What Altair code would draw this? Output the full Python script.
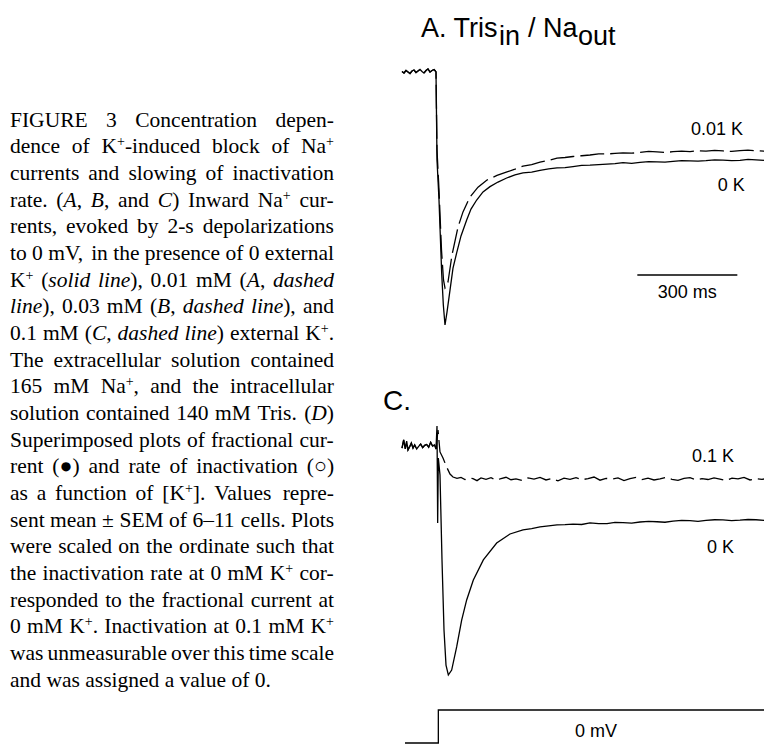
import altair as alt
import pandas as pd

# ---------------- caption text (*...* = italic, ^x = superscript) ----------------
CAPTION_LINES = [
    "FIGURE 3 Concentration depen-",
    "dence of K^+-induced block of Na^+",
    "currents and slowing of inactivation",
    "rate. (*A*, *B*, and *C*) Inward Na^+ cur-",
    "rents, evoked by 2-s depolarizations",
    "to 0 mV, in the presence of 0 external",
    "K^+ (*solid line*), 0.01 mM (*A*, *dashed*",
    "*line*), 0.03 mM (*B*, *dashed line*), and",
    "0.1 mM (*C*, *dashed line*) external K^+.",
    "The extracellular solution contained",
    "165 mM Na^+, and the intracellular",
    "solution contained 140 mM Tris. (*D*)",
    "Superimposed plots of fractional cur-",
    "rent (\u25cf) and rate of inactivation (\u25cb)",
    "as a function of [K^+]. Values repre-",
    "sent mean \u00b1 SEM of 6\u201311 cells. Plots",
    "were scaled on the ordinate such that",
    "the inactivation rate at 0 mM K^+ cor-",
    "responded to the fractional current at",
    "0 mM K^+. Inactivation at 0.1 mM K^+",
    "was unmeasurable over this time scale",
    "and was assigned a value of 0.",
]

# ---------------- traces: time (ms from step), current (fraction of 0 K peak) ----------------
A_PRE_T = [-102, -96, -90, -84, -78, -72, -66, -60, -54, -48, -42, -36, -30, -24, -18, -12, -6, -2]
A_PRE_I = [0.002, -0.004, 0.006, 0.000, -0.006, 0.004, 0.008, -0.002, 0.004, 0.010,
           0.002, -0.004, 0.006, 0.012, 0.000, 0.006, 0.010, 0.004]

A_0K_T = [0, 3, 9, 17, 22, 27, 33, 42, 51, 62,
          75, 92, 105, 122, 141, 162, 186, 212, 237, 261,
          287, 312, 338, 363, 387, 411, 437, 462, 488, 513,
          537, 561, 587, 612, 638, 663, 687, 711, 737, 762,
          786, 810, 836, 861, 887, 912, 936, 960, 984, 1008]
A_0K_I = [0, -0.348, -0.506, -0.794, -0.921, -1.0, -0.949, -0.862, -0.775, -0.715,
          -0.648, -0.585, -0.542, -0.506, -0.474, -0.453, -0.435, -0.419, -0.407, -0.399,
          -0.396, -0.389, -0.383, -0.379, -0.378, -0.374, -0.369, -0.368, -0.366, -0.364,
          -0.362, -0.358, -0.361, -0.357, -0.354, -0.355, -0.356, -0.353, -0.350, -0.351,
          -0.352, -0.350, -0.347, -0.348, -0.350, -0.349, -0.345, -0.347, -0.349, -0.348]

A_001K_T = [0, 3, 9, 16.5, 22.5, 27, 33, 36, 48, 66,
            81, 102, 126, 153, 183, 213, 237, 261, 287, 312,
            338, 363, 387, 411, 437, 462, 488, 513, 537, 561,
            587, 612, 638, 663, 687, 711, 737, 762, 786, 810,
            836, 861, 887, 912, 936, 960, 984, 1008]
A_001K_I = [0, -0.308, -0.466, -0.704, -0.822, -0.854, -0.845, -0.830, -0.723, -0.613,
            -0.553, -0.494, -0.455, -0.427, -0.409, -0.395, -0.384, -0.372, -0.366, -0.356,
            -0.350, -0.340, -0.338, -0.334, -0.331, -0.328, -0.324, -0.324, -0.322, -0.320,
            -0.321, -0.318, -0.314, -0.316, -0.318, -0.315, -0.313, -0.315, -0.311, -0.313,
            -0.310, -0.312, -0.314, -0.311, -0.309, -0.311, -0.313, -0.311]

C_PRE_T = [-102, -97, -92, -88, -84, -79, -74, -69, -64, -58, -52, -46, -40, -34, -28, -22, -16, -10, -5]
C_PRE_I = [0.004, 0.040, 0.000, 0.035, -0.004, 0.010, 0.026, 0.004, 0.018, 0.000,
           0.012, 0.022, 0.006, 0.016, 0.020, 0.008, 0.030, 0.012, 0.018]

C_0K_T = [0, 3, 5, 7, 12, 18, 24, 30, 37, 47,
          62, 77, 92, 112, 142, 182, 222, 261, 287, 312,
          338, 363, 387, 411, 437, 462, 488, 513, 537, 561,
          587, 612, 638, 663, 687, 711, 737, 762, 786, 810,
          836, 861, 887, 912, 936, 960, 984, 1008]
C_0K_I = [0, 0.102, -0.327, -0.040, -0.115, -0.491, -0.801, -0.956, -1.0, -0.978,
          -0.876, -0.757, -0.668, -0.580, -0.491, -0.416, -0.376, -0.358, -0.352, -0.345,
          -0.340, -0.336, -0.335, -0.332, -0.334, -0.327, -0.330, -0.330, -0.325, -0.326,
          -0.328, -0.323, -0.320, -0.322, -0.324, -0.319, -0.316, -0.317, -0.320, -0.316,
          -0.313, -0.314, -0.317, -0.315, -0.312, -0.313, -0.316, -0.314]

C_01K_T = [0, 6, 12, 21, 32, 42, 51, 63, 75, 87,
           99, 111, 123, 135, 150, 165, 180, 195, 210, 225,
           240, 258, 276, 294, 312, 330, 348, 366, 384, 402,
           420, 438, 456, 474, 492, 510, 528, 546, 564, 582,
           600, 618, 636, 654, 672, 690, 708, 726, 744, 762,
           780, 798, 816, 834, 852, 870, 888, 906, 924, 942,
           960, 978, 996, 1008]
C_01K_I = [0, 0.084, -0.013, -0.040, -0.080, -0.111, -0.124, -0.130, -0.126, -0.135,
           -0.129, -0.131, -0.140, -0.128, -0.134, -0.127, -0.138, -0.131, -0.125, -0.136,
           -0.132, -0.139, -0.128, -0.133, -0.126, -0.137, -0.130, -0.141, -0.129, -0.134,
           -0.127, -0.136, -0.131, -0.124, -0.138, -0.130, -0.133, -0.128, -0.140, -0.131,
           -0.126, -0.135, -0.129, -0.137, -0.132, -0.125, -0.134, -0.139, -0.130, -0.127,
           -0.136, -0.131, -0.135, -0.128, -0.133, -0.140, -0.129, -0.132, -0.126, -0.137,
           -0.131, -0.134, -0.130, -0.133]

STEP_T = [-93, 7, 7, 1008]
STEP_V = [-80, -80, 0, 0]

SCALEBAR_T = [604, 904]   # 300 ms
SCALEBAR_I = -0.802

A_LABEL_TEXT = ["0.01 K", "0 K"]
A_LABEL_T = [765, 845]
A_LABEL_I = [-0.229, -0.451]
C_LABEL_TEXT = ["0.1 K", "0 K"]
C_LABEL_T = [768, 813]
C_LABEL_I = [-0.035, -0.438]

# ---------------- layout (whole chart fits in 756 x 738) ----------------
CAP_W, RIGHT_W = 372, 384
A_H, C_H, V_H = 352, 340, 46
T_DOMAIN = [-168, 984]          # 3 ms per pixel
CAP_SIZE = 21.5
SUP_SIZE = 14
CAP_X0, CAP_LINE_W = 2, 324

SANS = "Liberation Sans"
SERIF = "Liberation Serif"

# Times/Liberation Serif advance widths (1/1000 em) for text justification
_REG = dict(zip(" !\"#$%&'()*+,-./0123456789:;<=>?@",
                [250, 333, 408, 500, 500, 833, 778, 180, 333, 333, 500, 564, 250, 333, 250, 278]
                + [500] * 10 + [278, 278, 564, 564, 564, 444, 921]))
_REG.update(dict(zip("ABCDEFGHIJKLMNOPQRSTUVWXYZ[\\]",
                     [722, 667, 667, 722, 611, 556, 722, 722, 333, 389, 722, 611, 889, 722, 722,
                      556, 722, 667, 556, 611, 722, 722, 944, 722, 722, 611, 333, 278, 333])))
_REG.update(dict(zip("abcdefghijklmnopqrstuvwxyz",
                     [444, 500, 444, 500, 444, 333, 500, 500, 278, 278, 500, 278, 778, 500, 500,
                      500, 500, 333, 389, 278, 500, 500, 722, 500, 500, 444])))
_REG.update({"\u00b1": 564, "\u2013": 500, "\u25cf": 600, "\u25cb": 600})
_ITA = dict(_REG)
_ITA.update(dict(zip("abcdefghijklmnopqrstuvwxyz",
                     [500, 500, 444, 500, 444, 278, 500, 500, 278, 278, 444, 278, 722, 500, 500,
                      500, 500, 389, 389, 278, 500, 444, 667, 444, 444, 389])))
_ITA.update({"A": 611, "B": 611, "C": 667, "D": 722})


def seg_width(text, style):
    if style == "sup":
        return sum(_REG.get(c, 500) for c in text) * SUP_SIZE / 1000
    table = _ITA if style == "italic" else _REG
    return sum(table.get(c, 500) for c in text) * CAP_SIZE / 1000


def parse_word(word, italic_state):
    segs, cur, style_it = [], "", italic_state
    i = 0
    while i < len(word):
        c = word[i]
        if c == "*":
            if cur:
                segs.append((cur, "italic" if style_it else "normal"))
                cur = ""
            style_it = not style_it
        elif c == "^":
            if cur:
                segs.append((cur, "italic" if style_it else "normal"))
                cur = ""
            segs.append((word[i + 1], "sup"))
            i += 1
        else:
            cur += c
        i += 1
    if cur:
        segs.append((cur, "italic" if style_it else "normal"))
    return segs, style_it


rows = []
for li, line_txt in enumerate(CAPTION_LINES):
    words, it = [], False
    for w in line_txt.split(" "):
        segs, it = parse_word(w, it)
        words.append(segs)
    widths = [sum(seg_width(t, s) for t, s in segs) for segs in words]
    last = li == len(CAPTION_LINES) - 1
    gap = CAP_SIZE * 0.25 if last or len(words) < 2 else \
        (CAP_LINE_W - sum(widths)) / (len(words) - 1)
    x = CAP_X0
    for segs, wd in zip(words, widths):
        sx = x
        for t, s in segs:
            rows.append({"i": li, "x": sx, "s": t, "style": s})
            sx += seg_width(t, s)
        x += wd + gap
cap_df = pd.DataFrame(rows)


def ydomain(zero_px, px_per_unit, height):
    return [-(height - zero_px) / px_per_unit, zero_px / px_per_unit]


xs = alt.Scale(domain=T_DOMAIN, nice=False, zero=False)
ysA = alt.Scale(domain=ydomain(64, 253, A_H), nice=False, zero=False)
ysC = alt.Scale(domain=ydomain(89, 226, C_H), nice=False, zero=False)
ysV = alt.Scale(domain=ydomain(10, 33 / 80, V_H), nice=False, zero=False)


def trace_df(t, i):
    df = pd.DataFrame({"t": t, "I": i})
    df["o"] = range(len(df))
    return df


def line(df, ys, dash=None, field="I"):
    kw = dict(color="black", strokeWidth=1.3, clip=True)
    if dash:
        kw["strokeDash"] = dash
    return alt.Chart(df).mark_line(**kw).encode(
        x=alt.X("t:Q", scale=xs, axis=None),
        y=alt.Y(f"{field}:Q", scale=ys, axis=None),
        order="o:Q",
    )


def labels(texts, ts, vals, ys, size=18, align="left"):
    df = pd.DataFrame({"t": ts, "I": vals, "s": texts})
    return alt.Chart(df).mark_text(font=SANS, fontSize=size, align=align,
                                   baseline="middle", color="black").encode(
        x=alt.X("t:Q", scale=xs, axis=None),
        y=alt.Y("I:Q", scale=ys, axis=None),
        text="s:N",
    )


def fixed_text(s, x, y, size):
    return alt.Chart(pd.DataFrame({"s": [s]})).mark_text(
        font=SANS, fontSize=size, align="left", baseline="alphabetic", color="black"
    ).encode(text="s:N", x=alt.value(x), y=alt.value(y))


# caption chart
cap_x = alt.Scale(domain=[0, CAP_W], nice=False, zero=False)
cap_y = alt.Scale(domain=[0, 21], range=[118.7, 678.7])
cap_base = alt.Chart(cap_df).encode(
    x=alt.X("x:Q", scale=cap_x, axis=None),
    y=alt.Y("i:Q", scale=cap_y, axis=None),
    text="s:N",
)
cap_norm = cap_base.transform_filter(alt.datum.style == "normal").mark_text(
    font=SERIF, fontSize=CAP_SIZE, align="left", baseline="alphabetic", color="black")
cap_ita = cap_base.transform_filter(alt.datum.style == "italic").mark_text(
    font=SERIF, fontSize=CAP_SIZE, fontStyle="italic", align="left",
    baseline="alphabetic", color="black")
cap_sup = cap_base.transform_filter(alt.datum.style == "sup").mark_text(
    font=SERIF, fontSize=SUP_SIZE, align="left", baseline="alphabetic", dy=-7,
    color="black")
caption = alt.layer(cap_norm, cap_ita, cap_sup).properties(width=CAP_W, height=A_H + C_H + V_H)

# panel A
a_solid = line(trace_df(A_PRE_T + A_0K_T, A_PRE_I + A_0K_I), ysA)
a_dash = line(trace_df(A_PRE_T + A_001K_T, A_PRE_I + A_001K_I), ysA, dash=[24, 6])
a_lab = labels(A_LABEL_TEXT, A_LABEL_T, A_LABEL_I, ysA)
sb_df = pd.DataFrame({"t": [SCALEBAR_T[0]], "t2": [SCALEBAR_T[1]], "I": [SCALEBAR_I]})
a_bar = alt.Chart(sb_df).mark_rule(color="black", strokeWidth=1.5).encode(
    x=alt.X("t:Q", scale=xs, axis=None), x2="t2:Q",
    y=alt.Y("I:Q", scale=ysA, axis=None))
a_barlab = labels(["300 ms"], [(SCALEBAR_T[0] + SCALEBAR_T[1]) / 2], [-0.872], ysA, align="center")
titleA = (fixed_text("A. Tris", 41, 29, 27) + fixed_text("in", 119, 37, 27)
          + fixed_text("/ Na", 148, 29, 27) + fixed_text("out", 198, 37, 27))
panelA = alt.layer(a_solid, a_dash, a_lab, a_bar, a_barlab, titleA).properties(
    width=RIGHT_W, height=A_H)

# panel C
c_solid = line(trace_df(C_PRE_T + C_0K_T, C_PRE_I + C_0K_I), ysC)
c_dash = line(trace_df(C_PRE_T + C_01K_T, C_PRE_I + C_01K_I), ysC, dash=[24, 6])
c_lab = labels(C_LABEL_TEXT, C_LABEL_T, C_LABEL_I, ysC)
titleC = fixed_text("C.", 3, 50, 28)
panelC = alt.layer(c_solid, c_dash, c_lab, titleC).properties(width=RIGHT_W, height=C_H)

# voltage protocol
v_df = pd.DataFrame({"t": STEP_T, "V": STEP_V})
v_df["o"] = range(len(v_df))
v_line = line(v_df, ysV, field="V")
v_lab = alt.Chart(pd.DataFrame({"t": [480], "V": [-52.6], "s": ["0 mV"]})).mark_text(
    font=SANS, fontSize=18, align="center", baseline="middle", color="black").encode(
    x=alt.X("t:Q", scale=xs, axis=None), y=alt.Y("V:Q", scale=ysV, axis=None), text="s:N")
panelV = alt.layer(v_line, v_lab).properties(width=RIGHT_W, height=V_H)

right = alt.vconcat(panelA, panelC, panelV, spacing=0)
chart = alt.hconcat(caption, right, spacing=0).properties(
    padding=0, background="white"
).configure_view(stroke=None)

chart.save("out.html", embed_options={"renderer": "svg", "actions": False})
